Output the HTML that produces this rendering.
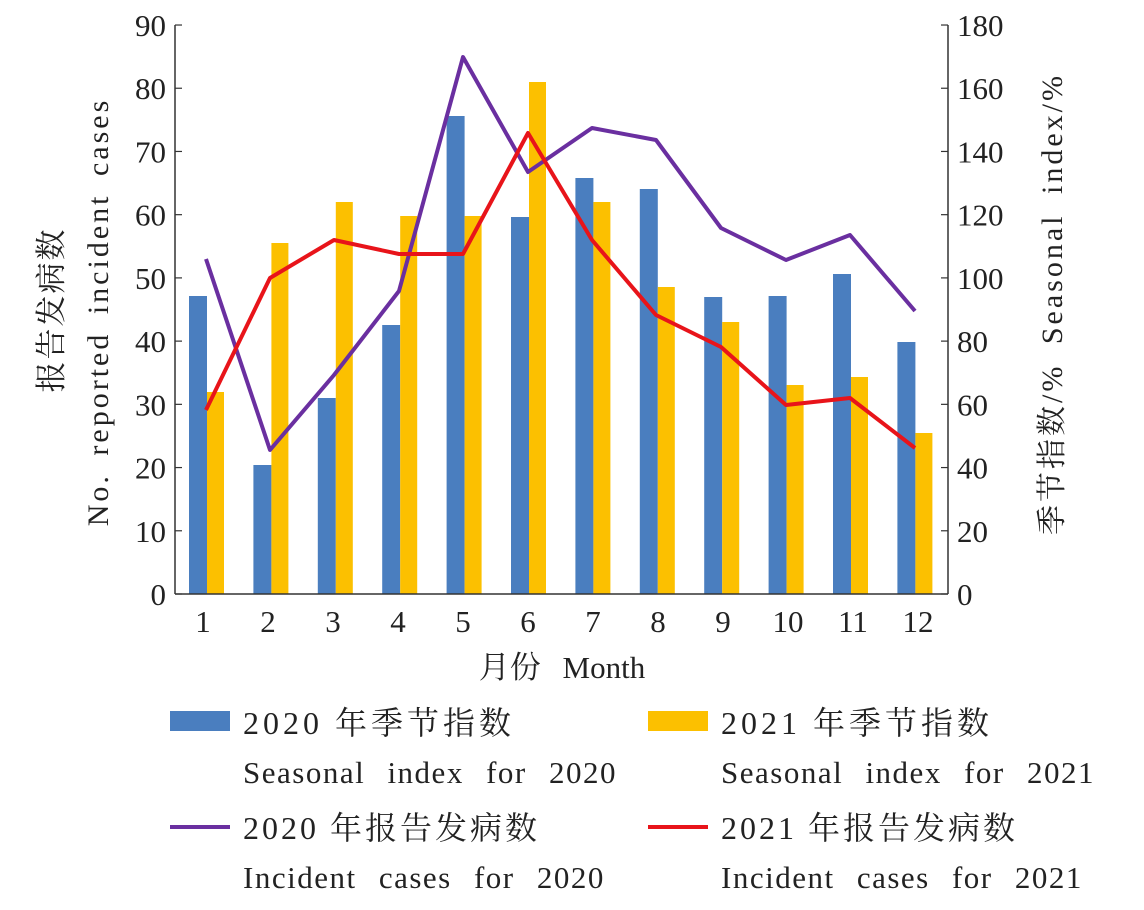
<!DOCTYPE html>
<html><head><meta charset="utf-8"><style>
body{margin:0;background:#fff;}
svg text{font-family:"Liberation Serif","Noto Serif CJK SC",serif;fill:#222;}
</style></head><body>
<svg width="1144" height="905" viewBox="0 0 1144 905" xmlns="http://www.w3.org/2000/svg">
<g id="bars"></g>
<g stroke="#333" stroke-width="1.5" fill="none">
<line x1="175" y1="25" x2="175" y2="594"/>
<line x1="948" y1="25" x2="948" y2="594"/>
<line x1="175" y1="594" x2="948" y2="594"/>
</g>
<g id="ticks" stroke="#333" stroke-width="1.2"></g>
<g id="labels" font-size="31"></g>
<polyline fill="none" stroke="#6a2fa0" stroke-width="4" stroke-linejoin="round" points="206,259 270,450 334,375 399,291 463,57 528,172 592,128 656,140 721,228 786,260 850,235 915,311"/>
<polyline fill="none" stroke="#e8141a" stroke-width="4" stroke-linejoin="round" points="206,410 270,278 334,240 399,254 463,254 528,133 592,240 656,315 721,347 786,405 850,398 915,448"/>
<text x="562" y="678" font-size="31" text-anchor="middle" word-spacing="14">月份 Month</text>
<text transform="translate(62,310) rotate(-90)" font-size="31" text-anchor="middle" letter-spacing="2">报告发病数</text>
<text transform="translate(108,312) rotate(-90)" font-size="30" text-anchor="middle" letter-spacing="3" word-spacing="7">No. reported incident cases</text>
<text transform="translate(1062,304) rotate(-90)" font-size="30" text-anchor="middle" letter-spacing="3" word-spacing="9">季节指数/%  Seasonal index/%</text>
<rect x="170" y="711" width="60" height="20" fill="#4a7ebf"/>
<text x="243" y="734" font-size="32" letter-spacing="4">2020 年季节指数</text>
<text x="243" y="783" font-size="31" letter-spacing="1.5" word-spacing="13">Seasonal index for 2020</text>
<rect x="648" y="711" width="60" height="20" fill="#fcc000"/>
<text x="721" y="734" font-size="32" letter-spacing="4">2021 年季节指数</text>
<text x="721" y="783" font-size="31" letter-spacing="1.5" word-spacing="13">Seasonal index for 2021</text>
<line x1="170" y1="827" x2="230" y2="827" stroke="#6a2fa0" stroke-width="4"/>
<text x="243" y="839" font-size="32" letter-spacing="3">2020 年报告发病数</text>
<text x="243" y="888" font-size="31" letter-spacing="1.5" word-spacing="13">Incident cases for 2020</text>
<line x1="648" y1="827" x2="708" y2="827" stroke="#e8141a" stroke-width="4"/>
<text x="721" y="839" font-size="32" letter-spacing="3">2021 年报告发病数</text>
<text x="721" y="888" font-size="31" letter-spacing="1.5" word-spacing="13">Incident cases for 2021</text>
</svg>
<script>
var ns="http://www.w3.org/2000/svg";
function el(p,t,a,txt){var e=document.createElementNS(ns,t);for(var k in a)e.setAttribute(k,a[k]);if(txt!==undefined)e.textContent=txt;document.getElementById(p).appendChild(e);}
var b=[296,465,398,325,116,217,178,189,297,296,274,342];
var y=[392,243,202,216,216,82,202,287,322,385,377,433];
for(var i=0;i<12;i++){var x=189+i*64.4;
el("bars","rect",{x:x,y:b[i],width:18,height:594-b[i],fill:"#4a7ebf"});
el("bars","rect",{x:x+18,y:y[i],width:17,height:594-y[i],fill:"#fcc000"});
el("labels","text",{x:203+i*65,y:632,"text-anchor":"middle"},String(i+1));
}
for(var j=0;j<=9;j++){var yy=594-j*63.22;
el("labels","text",{x:166,y:yy+11,"text-anchor":"end"},String(j*10));
el("labels","text",{x:957,y:yy+11,"text-anchor":"start"},String(j*20));
el("ticks","line",{x1:175,y1:yy,x2:182,y2:yy});
el("ticks","line",{x1:941,y1:yy,x2:948,y2:yy});}
</script>
</body></html>
